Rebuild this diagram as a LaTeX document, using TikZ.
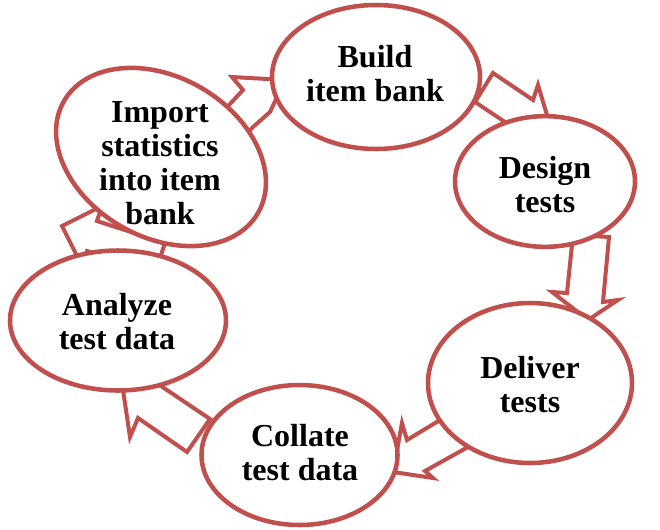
\documentclass[tikz,border=0pt]{standalone}
\usepackage{fontspec}
\setmainfont{Liberation Serif}
\usetikzlibrary{shapes.geometric}
\definecolor{ring}{HTML}{C0504D}
\begin{document}
\begin{tikzpicture}[x=0.75pt,y=-0.75pt,
  bubble/.style={ellipse, draw=ring, line width=3.4pt, fill=white, inner sep=0pt},
  flow/.style={draw=ring, line width=3pt, fill=white, line join=miter},
  caption/.style={font=\fontsize{24}{25.5}\selectfont\bfseries, align=center, inner sep=0pt}]
\useasboundingbox (0,0) rectangle (660,529);

% block arrows of the cycle (drawn first, the stages cover their ends)
\draw[flow] (215,120) -- (243,90) -- (232,77) -- (285,80) -- (270,112) -- (253,127) -- (237,144) -- cycle;
\draw[flow] (493,73) -- (533,100) -- (538,85) -- (553,135) -- (502,139) -- (514,128) -- (475,102) -- cycle;
\draw[flow] (573,235) -- (567,293) -- (552,292) -- (588,320) -- (618,300) -- (603,302) -- (609,237) -- cycle;
\draw[flow] (450,414) -- (468,447) -- (425,471) -- (433,478) -- (393,472) -- (402,423) -- (407,440) -- cycle;
\draw[flow] (210,419) -- (187,452) -- (138,418) -- (130,437) -- (123,390) -- (169,367) -- (161,386) -- cycle;
\draw[flow] (165,243) -- (97,221) -- (102,206) -- (62,226) -- (82,266) -- (87,251) -- (155,273) -- cycle;

% stages
\node[bubble, minimum width=156pt, minimum height=108pt] (build) at (376,77) {};
\node[bubble, minimum width=135pt, minimum height=98pt] (design) at (545,181.5) {};
\node[bubble, minimum width=153pt, minimum height=120pt] (deliver) at (530,383) {};
\node[bubble, minimum width=147pt, minimum height=105pt] (collate) at (299.5,455) {};
\node[bubble, minimum width=162pt, minimum height=105pt] (analyze) at (118,320.5) {};
\node[bubble, minimum width=168pt, minimum height=120pt, rotate=-30] (import) at (161,157) {};

\node[caption] (buildtxt) at (375,74) {Build\\item bank};
\node[caption] (designtxt) at (545,185) {Design\\tests};
\node[caption] (delivertxt) at (530,385) {Deliver\\tests};
\node[caption] (collatetxt) at (300,453) {Collate\\test data};
\node[caption] (analyzetxt) at (117,322) {Analyze\\test data};
\node[caption] (importtxt) at (160,163) {Import\\statistics\\into item\\bank};
\end{tikzpicture}
\end{document}
